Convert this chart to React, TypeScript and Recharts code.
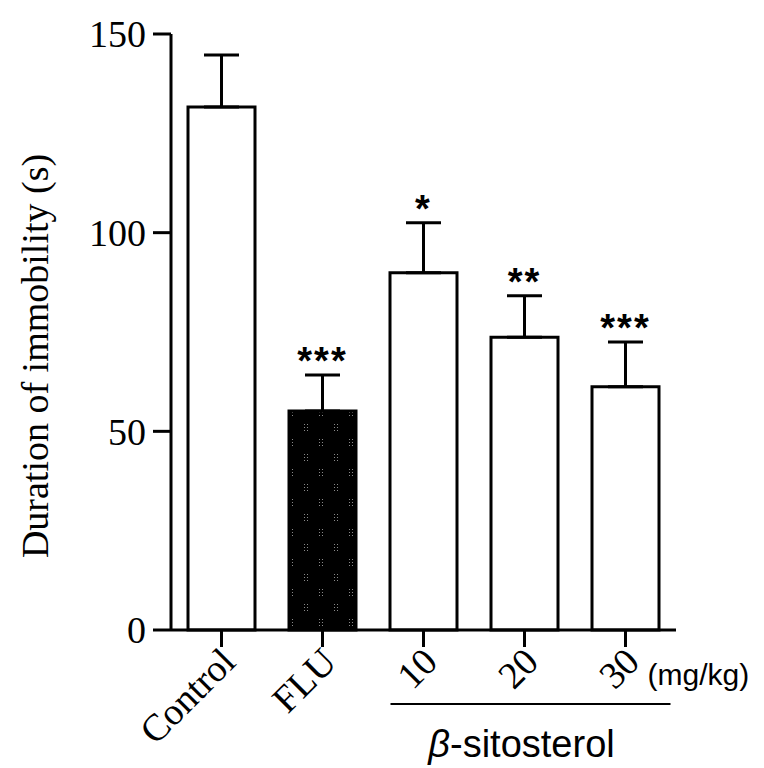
import React from 'react';
import { BarChart, Bar, XAxis, YAxis, ErrorBar, LabelList, Cell } from 'recharts';

const categories = ['Control', 'FLU', '10', '20', '30'];
const means = [131.6, 55.1, 89.9, 73.7, 61.2];
const sems = [13.1, 9.1, 12.6, 10.4, 11.3];
const significance = ['', '***', '*', '**', '***'];
const yTicks = [0, 50, 100, 150];
const fills = ['#ffffff', 'url(#fluPattern)', '#ffffff', '#ffffff', '#ffffff'];
const doseUnit = '(mg/kg)';
const groupLabel = '-sitosterol';
const yLabel = 'Duration of immobility (s)';

const data = categories.map((c, i) => ({
  name: c,
  mean: means[i],
  err: [0, sems[i]],
  sig: significance[i],
}));

const SERIF = '"Liberation Serif", "Times New Roman", serif';
const SANS = '"Liberation Sans", Arial, sans-serif';

const XTick = (props: any) => {
  const { x, y, payload } = props;
  const label = String(payload.value);
  const ax = x + 16;
  const ay = y + 17;
  return (
    <g>
      <text
        x={ax}
        y={ay}
        transform={`rotate(-45, ${ax}, ${ay})`}
        textAnchor="end"
        fontFamily={SERIF}
        fontSize={38}
        fill="#000"
      >
        {label}
      </text>
      {label === '20' && (
        <g>
          <line x1={x - 134} y1={y + 57} x2={x + 146} y2={y + 57} stroke="#000" strokeWidth={2} />
          <text x={x - 3} y={y + 110} textAnchor="middle" fontFamily={SANS} fontSize={38} fill="#000">
            <tspan fontStyle="italic">β</tspan>
            <tspan>{groupLabel}</tspan>
          </text>
        </g>
      )}
      {label === '30' && (
        <text x={x + 22} y={y + 38} textAnchor="start" fontFamily={SANS} fontSize={30} fill="#000">
          {doseUnit}
        </text>
      )}
    </g>
  );
};

const YLabel = (props: any) => {
  const vb = props.viewBox || {};
  const cx = 48;
  const cy = (vb.y ?? 34) + (vb.height ?? 596) / 2 + 24;
  return (
    <text
      x={cx}
      y={cy}
      transform={`rotate(-90, ${cx}, ${cy})`}
      textAnchor="middle"
      fontFamily={SERIF}
      fontSize={38}
      fill="#000"
    >
      {yLabel}
    </text>
  );
};

const StarLabel = (props: any) => {
  const vb = props.viewBox || props;
  const x = props.x ?? vb.x;
  const y = props.y ?? vb.y;
  const width = props.width ?? vb.width;
  const height = props.height ?? vb.height;
  const index = props.index;
  const value = props.value;
  if (!value || index == null) return null;
  const pxPerUnit = height / means[index];
  const errTop = y - sems[index] * pxPerUnit;
  return (
    <text
      x={x + width / 2}
      y={errTop - 1}
      textAnchor="middle"
      fontFamily={SANS}
      fontWeight="bold"
      fontSize={38}
      letterSpacing={2}
      fill="#000"
    >
      {value}
    </text>
  );
};

export default function App() {
  return (
    <div style={{ position: 'absolute', left: 0, top: 0, background: '#fff' }}>
      <BarChart
        width={764}
        height={768}
        data={data}
        margin={{ top: 34, right: 88, left: 0, bottom: 0 }}
      >
        <defs>
          <pattern id="fluPattern" width="30" height="30" patternUnits="userSpaceOnUse">
            <rect width="30" height="30" fill="#000" />
            <g fill="#8a8a8a">
              <rect x="4" y="4" width="1" height="1" />
              <rect x="7" y="4" width="1" height="1" />
              <rect x="4" y="7" width="1" height="1" />
              <rect x="7" y="7" width="1" height="1" />
              <rect x="4" y="10" width="1" height="1" />
              <rect x="7" y="10" width="1" height="1" />
              <rect x="19" y="19" width="1" height="1" />
              <rect x="22" y="19" width="1" height="1" />
              <rect x="19" y="22" width="1" height="1" />
              <rect x="22" y="22" width="1" height="1" />
              <rect x="19" y="25" width="1" height="1" />
              <rect x="22" y="25" width="1" height="1" />
            </g>
          </pattern>
        </defs>
        <XAxis
          dataKey="name"
          height={138}
          interval={0}
          tickSize={17}
          tickMargin={0}
          axisLine={{ stroke: '#000', strokeWidth: 3 }}
          tickLine={{ stroke: '#000', strokeWidth: 3 }}
          tick={<XTick />}
        />
        <YAxis
          width={171}
          domain={[0, 150]}
          ticks={yTicks}
          tickSize={18}
          tickMargin={7}
          axisLine={{ stroke: '#000', strokeWidth: 3 }}
          tickLine={{ stroke: '#000', strokeWidth: 3 }}
          tick={{ fill: '#000', fontSize: 38, fontFamily: SERIF }}
          label={<YLabel />}
        />
        <Bar dataKey="mean" barSize={67} stroke="#000" strokeWidth={3} isAnimationActive={false}>
          {data.map((d, i) => (
            <Cell key={d.name} fill={fills[i]} />
          ))}
          <ErrorBar dataKey="err" width={17.5} stroke="#000" strokeWidth={3} isAnimationActive={false} />
          <LabelList dataKey="sig" content={<StarLabel />} />
        </Bar>
      </BarChart>
    </div>
  );
}
